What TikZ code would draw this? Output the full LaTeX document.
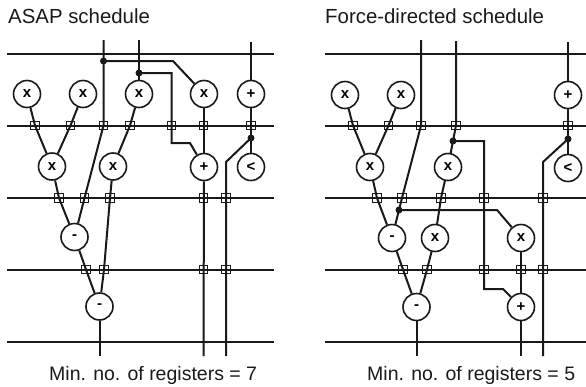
\documentclass[tikz,border=0pt]{standalone}
\usepackage{fontspec}
\setmainfont{Liberation Sans}
\tikzset{
  wire/.style={line width=2pt,black!90},
  opnode/.style={circle,draw=black!90,line width=1.6pt,minimum size=27pt,inner sep=0pt,font=\fontsize{15}{15}\bfseries\selectfont},
  sq/.style={rectangle,draw=black!90,line width=1.1pt,minimum size=8.5pt,inner sep=0pt},
  dotn/.style={circle,fill=black!90,minimum size=7pt,inner sep=0pt},
  captxt/.style={anchor=base west,inner sep=0pt,font=\fontsize{20.4}{21}\selectfont,text=black!90},
  cntxt/.style={anchor=base west,inner sep=0pt,font=\fontsize{19.5}{21}\selectfont,text=black!90}
}
\begin{document}
\begin{tikzpicture}[x=1pt,y=-1pt]
\useasboundingbox (0,0) rectangle (586,386);
% captions
\node[captxt] (t1) at (8,23) {ASAP schedule};
\node[captxt] (t2) at (325,23) {Force-directed schedule};
\node[cntxt] (t3) at (49,380) {Min. no. of registers = 7};
\node[cntxt] (t4) at (367,380) {Min. no. of registers = 5};
% register lines
\foreach \n/\y in {1/54,2/125.5,3/198,4/269.5,5/342}{
  \coordinate (L\n a) at (7,\y); \coordinate (L\n b) at (274,\y);
  \coordinate (R\n a) at (325,\y); \coordinate (R\n b) at (586,\y);
  \draw[wire] (L\n a) -- (L\n b);
  \draw[wire] (R\n a) -- (R\n b);
}
% ---------- LEFT ----------
\node[opnode] (a1) at (27,94) {x};
\node[opnode] (a2) at (83,94) {x};
\node[opnode] (a3) at (139,94) {x};
\node[opnode] (a4) at (204,94) {x};
\node[opnode] (a5) at (251,94) {+};
\node[opnode] (b1) at (52,166.5) {x};
\node[opnode] (b2) at (113,166.5) {x};
\node[opnode] (b3) at (204,167) {+};
\node[opnode] (b4) at (251,167) {<};
\node[opnode] (c1) at (74.5,237) {-};
\node[opnode] (d1) at (99.5,306.5) {-};
\foreach \n/\x in {1/35,2/70.5,3/103.5,4/130,5/171.5,6/203.5,7/251}
  \node[sq] (p\n) at (\x,125.5) {};
\foreach \n/\x in {1/59,2/84.5,3/110,4/203.5,5/226}
  \node[sq] (q\n) at (\x,198) {};
\foreach \n/\x in {1/86,2/104,3/203.5,4/226}
  \node[sq] (r\n) at (\x,269.5) {};
\node[dotn] (u1) at (103.5,61) {};
\node[dotn] (u2) at (139,73) {};
\node[dotn] (u3) at (251,138) {};
\coordinate (s1) at (103.5,40);
\coordinate (s2) at (139,40);
\coordinate (s3) at (251,42);
\coordinate (e1) at (99.5,356);
\coordinate (e2) at (203.5,356);
\coordinate (e3) at (226,356);
\coordinate (k1) at (173,61);
\coordinate (k2) at (171.5,73);
\coordinate (k3) at (171.5,143);
\coordinate (k4) at (190,143);
\coordinate (k5) at (226,162);
\draw[wire] (s1) -- (p3.center) -- (q2.center) -- (c1);
\draw[wire] (u1.center) -- (k1) -- (a4);
\draw[wire] (s2) -- (a3);
\draw[wire] (u2.center) -- (k2) -- (k3) -- (k4) -- (b3);
\draw[wire] (a1) -- (p1.center) -- (b1);
\draw[wire] (a2) -- (p2.center) -- (b1);
\draw[wire] (a3) -- (p4.center) -- (b2);
\draw[wire] (a4) -- (b3);
\draw[wire] (b3) -- (e2);
\draw[wire] (s3) -- (a5);
\draw[wire] (a5) -- (b4);
\draw[wire] (u3.center) -- (k5) -- (e3);
\draw[wire] (b1) -- (q1.center) -- (c1);
\draw[wire] (b2) -- (q3.center) -- (r2.center) -- (d1);
\draw[wire] (c1) -- (r1.center) -- (d1);
\draw[wire] (d1) -- (e1);
% ---------- RIGHT ----------
\node[opnode] (A1) at (345,95) {x};
\node[opnode] (A2) at (401,95) {x};
\node[opnode] (A5) at (568,95) {+};
\node[opnode] (B1) at (370,167) {x};
\node[opnode] (B2) at (448,167) {x};
\node[opnode] (B4) at (568,168) {<};
\node[opnode] (C1) at (392,238) {-};
\node[opnode] (C2) at (435,238) {x};
\node[opnode] (C3) at (521,238) {x};
\node[opnode] (D1) at (416.5,307) {-};
\node[opnode] (D2) at (521,307) {+};
\foreach \n/\x in {1/353,2/388.5,3/421,4/456,5/568}
  \node[sq] (P\n) at (\x,125.5) {};
\foreach \n/\x in {1/377,2/402,3/441,4/484,5/543}
  \node[sq] (Q\n) at (\x,198) {};
\foreach \n/\x in {1/403,2/427,3/484,4/521,5/543}
  \node[sq] (S\n) at (\x,269.5) {};
\node[dotn] (U1) at (399,210) {};
\node[dotn] (U2) at (453,141) {};
\node[dotn] (U3) at (568,139) {};
\coordinate (T1) at (421,40);
\coordinate (T2) at (456,41);
\coordinate (T3) at (568,42);
\coordinate (E1) at (416.5,356);
\coordinate (E2) at (521,356);
\coordinate (E3) at (543,356);
\coordinate (K1) at (497,210);
\coordinate (K2) at (484,141);
\coordinate (K3) at (484,289);
\coordinate (K4) at (503,289);
\coordinate (K5) at (543,162);
\draw[wire] (T1) -- (P3.center) -- (Q2.center) -- (C1);
\draw[wire] (U1.center) -- (K1) -- (C3);
\draw[wire] (T2) -- (P4.center) -- (U2.center) -- (B2);
\draw[wire] (U2.center) -- (K2) -- (K3) -- (K4) -- (D2);
\draw[wire] (A1) -- (P1.center) -- (B1);
\draw[wire] (A2) -- (P2.center) -- (B1);
\draw[wire] (T3) -- (A5);
\draw[wire] (A5) -- (B4);
\draw[wire] (U3.center) -- (K5) -- (E3);
\draw[wire] (B1) -- (Q1.center) -- (C1);
\draw[wire] (B2) -- (Q3.center) -- (C2);
\draw[wire] (C2) -- (S2.center) -- (D1);
\draw[wire] (C1) -- (S1.center) -- (D1);
\draw[wire] (C3) -- (D2);
\draw[wire] (D2) -- (E2);
\draw[wire] (D1) -- (E1);
\end{tikzpicture}
\end{document}
